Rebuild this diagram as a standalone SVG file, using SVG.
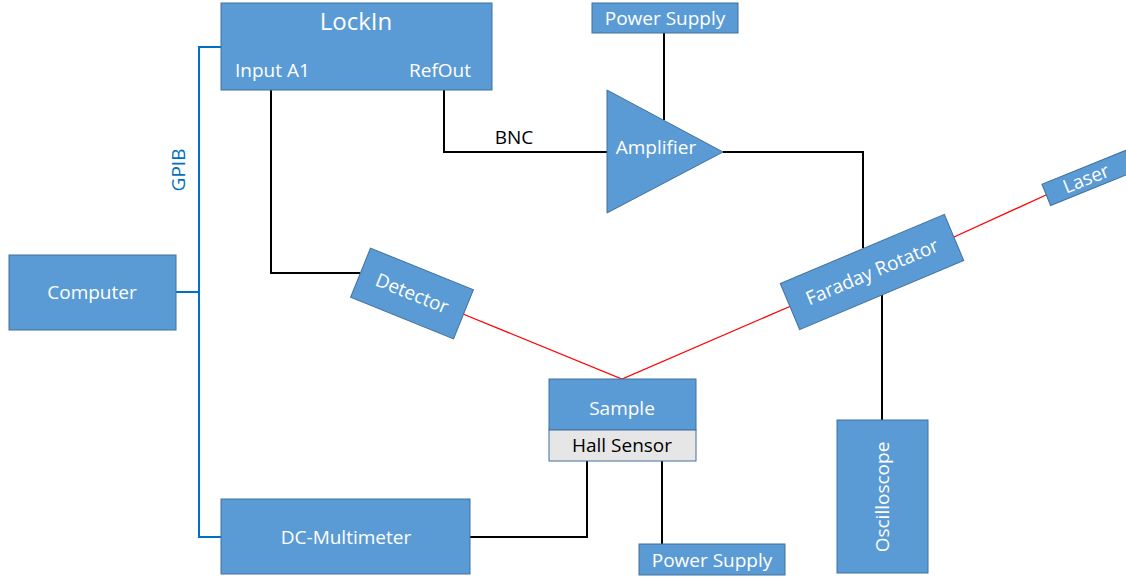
<svg xmlns="http://www.w3.org/2000/svg" width="1126" height="578" viewBox="0 0 1126 578">
<style>
.box{fill:#5B9BD5;stroke:#41719C;stroke-width:1}
.hall{fill:#E7E6E6;stroke:#41719C;stroke-width:1}
.t{font-family:"Open Sans","Liberation Sans",sans-serif;font-size:19px;fill:#FFFFFF;text-anchor:middle}
.dark{fill:#000000}
.wire{fill:none;stroke:#000000;stroke-width:2}
.bus{fill:none;stroke:#0070C0;stroke-width:2}
.beam{fill:none;stroke:#FF0000;stroke-width:1.3}
</style>
<rect width="1126" height="578" fill="#FFFFFF"/>
<g id="connectors">
<polyline class="bus" points="221,47 199,47 199,537 221,537"/>
<line class="bus" x1="176" y1="292" x2="199" y2="292"/>
<text x="0" y="0" transform="translate(185,170) rotate(-90)" class="t" style="fill:#0070C0">GPIB</text>
<polyline class="wire" points="271,90 271,273 360,273"/>
<polyline class="wire" points="444,90 444,152 607,152"/>
<text x="514" y="144" class="t dark">BNC</text>
<line class="wire" x1="664" y1="33" x2="664" y2="120"/>
<polyline class="wire" points="723,152 863,152 863,248"/>
<line class="wire" x1="882" y1="295" x2="882" y2="420"/>
<polyline class="wire" points="587,461 587,537 470,537"/>
<line class="wire" x1="662" y1="461" x2="662" y2="544"/>
<polyline class="beam" points="463,314 622,379 791,306"/>
<line class="beam" x1="954" y1="237" x2="1046" y2="195"/>
</g>
<g id="computer">
<rect class="box" x="9" y="255" width="167" height="75"/>
<text class="t" x="92" y="299">Computer</text>
</g>
<g id="lockin">
<rect class="box" x="221" y="3" width="271" height="87"/>
<text class="t" x="356" y="30" style="font-size:24px">LockIn</text>
<text class="t" x="235" y="77" style="text-anchor:start">Input A1</text>
<text class="t" x="471" y="77" style="text-anchor:end">RefOut</text>
</g>
<g id="power-supply-top">
<rect class="box" x="592" y="3" width="146" height="30"/>
<text class="t" x="665" y="25">Power Supply</text>
</g>
<g id="amplifier">
<polygon class="box" points="607,90 607,213 723,152"/>
<text class="t" x="656" y="154">Amplifier</text>
</g>
<g id="detector">
<g transform="translate(412,293.5) rotate(22)">
<rect class="box" x="-55.5" y="-26.5" width="111" height="53"/>
<text class="t" x="0" y="6.5">Detector</text>
</g>
</g>
<g id="faraday-rotator">
<g transform="translate(872,272) rotate(-22.8)">
<rect class="box" x="-89" y="-25" width="178" height="50"/>
<text class="t" x="0" y="6.5">Faraday Rotator</text>
</g>
</g>
<g id="laser">
<g transform="translate(1088,178) rotate(-22)">
<rect class="box" x="-45" y="-11.5" width="90" height="23"/>
<text class="t" x="-2" y="6.5">Laser</text>
</g>
</g>
<g id="sample">
<rect class="box" x="549" y="379" width="147" height="51"/>
<text class="t" x="622" y="415">Sample</text>
<rect class="hall" x="549" y="430" width="147" height="31"/>
<text class="t dark" x="622" y="452">Hall Sensor</text>
</g>
<g id="power-supply-bottom">
<rect class="box" x="639" y="544" width="146" height="31"/>
<text class="t" x="712" y="567">Power Supply</text>
</g>
<g id="dc-multimeter">
<rect class="box" x="221" y="499" width="249" height="75"/>
<text class="t" x="346" y="544">DC-Multimeter</text>
</g>
<g id="oscilloscope">
<rect class="box" x="837" y="420" width="91" height="153"/>
<text class="t" x="0" y="0" transform="translate(889,497) rotate(-90)">Oscilloscope</text>
</g>
</svg>
